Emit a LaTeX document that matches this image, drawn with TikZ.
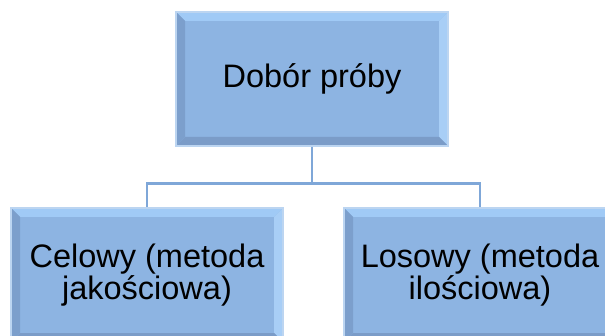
\documentclass[tikz,border=0pt]{standalone}
\usepackage{fontspec}
\setmainfont{Liberation Sans}
\usepackage{tikz}
\usetikzlibrary{calc}
\usepackage{xcolor}

\definecolor{faceblue}{HTML}{8DB4E2}
\definecolor{bevtop}{HTML}{A0CAF6}
\definecolor{bevright}{HTML}{A8CEF6}
\definecolor{bevleft}{HTML}{7C9FCC}
\definecolor{bevbottom}{HTML}{7B9CC8}
\definecolor{rimblue}{HTML}{BCD5F1}
\definecolor{linkblue}{HTML}{7FA7D8}

\tikzset{
  bevelbox/.style={rectangle,fill=faceblue,draw=rimblue,line width=1.2pt,
    minimum width=272pt,minimum height=134pt,inner sep=0pt,
    align=center,font=\fontsize{32.5}{31.5}\selectfont,
    path picture={
      \coordinate (nw) at (path picture bounding box.north west);
      \coordinate (ne) at (path picture bounding box.north east);
      \coordinate (sw) at (path picture bounding box.south west);
      \coordinate (se) at (path picture bounding box.south east);
      \fill[bevtop] (nw) -- (ne) -- ($(ne)+(-9,-9)$) -- ($(nw)+(9,-9)$) -- cycle;
      \fill[bevright] (ne) -- (se) -- ($(se)+(-9,9)$) -- ($(ne)+(-9,-9)$) -- cycle;
      \fill[bevbottom] (se) -- (sw) -- ($(sw)+(9,9)$) -- ($(se)+(-9,9)$) -- cycle;
      \fill[bevleft] (sw) -- (nw) -- ($(nw)+(9,-9)$) -- ($(sw)+(9,9)$) -- cycle;
    }},
  link/.style={draw=linkblue,line width=2.6pt}
}

\begin{document}
\begin{tikzpicture}[x=1pt,y=1pt]
  \useasboundingbox (0,0) rectangle (605,335);
  % boxes
  \node[bevelbox] (sample) at (312,256) {Dobór próby};
  \node[bevelbox] (purpose) at (147,60) {Celowy (metoda\\jakościowa)};
  \node[bevelbox] (random) at (480,60) {Losowy (metoda\\ilościowa)};
  % connectors
  \coordinate (fork) at ($(sample.south)+(0,-37)$);
  \draw[link] (sample.south) -- (fork);
  \draw[link] (fork) -| (purpose.north);
  \draw[link] (fork) -| (random.north);
\end{tikzpicture}
\end{document}
